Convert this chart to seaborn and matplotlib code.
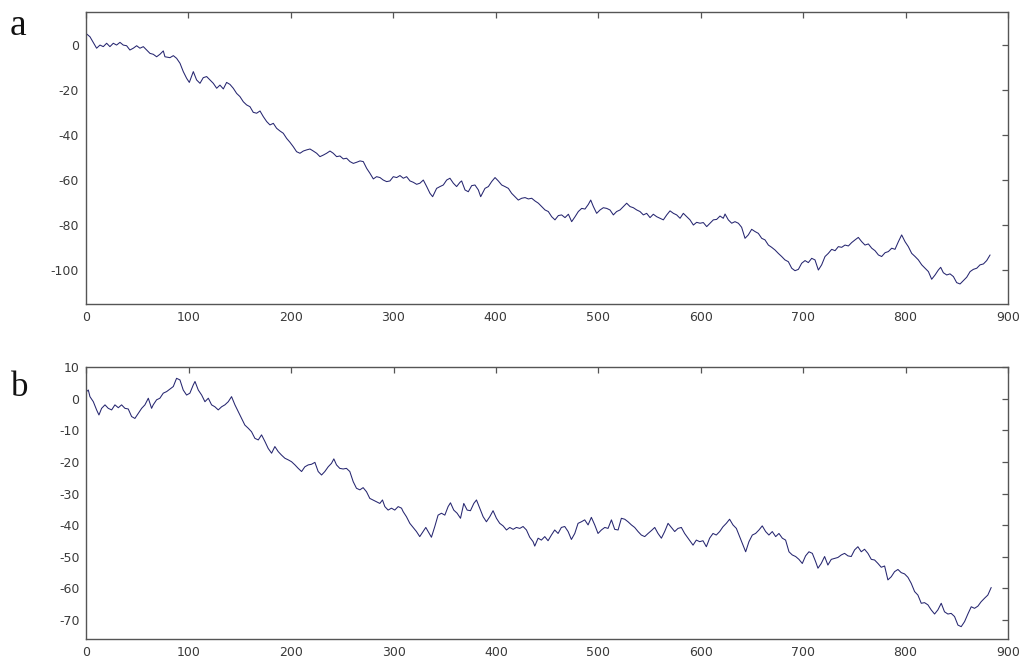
import matplotlib
matplotlib.use("Agg")
import matplotlib.pyplot as plt
import seaborn as sns

### Values (x = sample index)
# panel a, samples 0-300
a_x_1 = [0, 3.9, 10.4, 13.7, 16.9, 20.2, 23.4, 26.7, 29.9, 33.2,
         36.4, 39.7, 42.9, 46.2, 49.5, 52.7, 56.0, 59.2, 62.5, 65.7,
         69.0, 72.2, 75.5, 77.1, 82.0, 85.3, 88.5, 91.8, 95.0, 98.3,
         100.9, 104.8, 108.0, 111.3, 114.5, 117.8, 121.0, 124.3, 127.6, 130.8,
         134.1, 137.3, 140.6, 143.8, 147.1, 150.3, 153.6, 156.8, 160.1, 163.3,
         166.6, 169.9, 173.1, 176.4, 179.6, 182.9, 186.1, 189.4, 192.6, 195.9,
         199.1, 202.4, 205.6, 208.9, 212.2, 215.4, 218.7, 221.9, 225.2, 228.4,
         231.7, 234.9, 238.2, 241.4, 244.7, 247.9, 251.2, 254.4, 257.7, 261.0,
         264.2, 267.5, 270.7, 274.0, 277.2, 280.5, 283.7, 287.0, 290.2, 293.5,
         296.7]
a_y_1 = [5.0, 3.5, -1.6, -0.2, -0.9, 0.6, -0.9, 0.6, -0.2, 1.0,
         -0.2, -0.5, -2.4, -1.6, -0.5, -1.6, -0.9, -2.4, -3.9, -4.3,
         -5.4, -4.3, -2.8, -5.4, -5.8, -4.9, -6.1, -8.3, -12.0, -15.0,
         -16.8, -12.0, -15.7, -17.2, -14.7, -14.2, -15.7, -17.2, -19.4, -18.0,
         -19.7, -16.8, -17.7, -19.4, -21.7, -23.1, -25.4, -26.8, -27.6, -30.1,
         -30.5, -29.5, -32.0, -34.2, -35.7, -35.0, -37.2, -38.4, -39.4, -41.7,
         -43.4, -45.4, -47.6, -48.3, -47.3, -46.8, -46.4, -47.3, -48.3, -49.8,
         -49.1, -48.3, -47.3, -48.3, -49.8, -49.5, -50.8, -50.5, -52.0, -52.8,
         -52.3, -51.7, -52.0, -55.0, -57.2, -59.7, -58.7, -59.1, -60.2, -60.9,
         -60.6]

# panel a, samples 300-600
a_x_2 = [300.0, 303.3, 306.5, 309.8, 313.0, 316.3, 319.5, 322.8, 326.0, 329.3,
         332.6, 335.8, 338.4, 342.3, 345.6, 348.8, 352.1, 355.3, 358.6, 361.8,
         365.1, 366.7, 370.0, 373.2, 376.5, 379.7, 383.0, 385.3, 389.5, 392.8,
         396.0, 399.3, 402.5, 405.8, 409.0, 412.3, 415.5, 418.8, 422.0, 425.3,
         428.6, 431.8, 435.1, 438.3, 441.6, 444.8, 448.1, 451.3, 454.6, 457.8,
         461.1, 464.3, 467.6, 470.9, 474.1, 477.4, 480.6, 483.9, 487.1, 490.4,
         492.7, 495.3, 498.5, 501.8, 505.0, 508.3, 511.5, 514.8, 518.0, 521.3,
         524.6, 527.8, 531.1, 534.3, 537.6, 540.8, 544.1, 547.3, 550.6, 553.8,
         557.1, 560.3, 563.6, 566.9, 570.1, 573.4, 576.6, 579.9, 583.1, 586.4,
         589.6, 592.9, 596.1, 599.4]
a_y_2 = [-58.7, -59.1, -58.2, -59.4, -58.7, -60.6, -61.2, -62.1, -61.6, -60.2,
         -63.1, -66.1, -67.6, -63.9, -63.1, -62.4, -60.2, -59.4, -61.6, -63.1,
         -61.2, -60.6, -64.6, -65.4, -62.7, -62.4, -64.6, -67.6, -63.9, -63.1,
         -60.9, -59.1, -60.6, -62.4, -63.1, -63.9, -66.1, -67.6, -69.1, -68.3,
         -68.0, -68.6, -68.3, -69.5, -70.5, -72.0, -73.5, -74.2, -76.5, -77.9,
         -76.0, -75.7, -76.9, -75.4, -78.7, -76.5, -74.2, -72.8, -73.1, -71.0,
         -69.1, -72.0, -75.0, -73.5, -72.5, -72.8, -73.5, -75.7, -74.2, -73.5,
         -72.0, -70.5, -72.0, -72.5, -73.5, -74.2, -75.7, -75.0, -76.9, -75.4,
         -76.5, -77.2, -77.9, -75.7, -73.9, -75.0, -75.7, -77.2, -75.0, -76.5,
         -77.9, -80.2, -79.0, -79.4]

# panel a, samples 600-885
a_x_3 = [602.6, 605.9, 609.1, 612.4, 615.6, 618.9, 622.1, 623.8, 627.0, 630.3,
         633.5, 636.8, 640.0, 643.3, 646.5, 649.8, 653.1, 656.3, 659.6, 662.8,
         666.1, 669.3, 672.6, 675.8, 679.1, 682.3, 685.6, 688.9, 692.1, 695.4,
         698.6, 701.9, 705.1, 708.4, 711.6, 714.9, 718.1, 721.4, 724.6, 727.9,
         731.2, 734.4, 737.7, 740.9, 744.2, 747.4, 750.7, 753.9, 757.2, 760.4,
         763.7, 767.0, 770.2, 773.5, 776.7, 780.0, 783.2, 786.5, 789.7, 793.0,
         796.2, 799.5, 802.7, 806.0, 809.3, 812.5, 815.8, 819.0, 822.3, 825.5,
         828.8, 832.0, 834.3, 836.9, 840.2, 843.4, 846.7, 849.9, 853.2, 856.4,
         859.7, 863.0, 866.2, 869.5, 872.7, 876.0, 879.2, 882.5]
a_y_3 = [-79.1, -80.9, -79.4, -77.9, -77.7, -76.2, -77.2, -75.3, -77.9, -79.4,
         -78.7, -79.4, -81.2, -86.1, -84.6, -82.1, -83.1, -83.9, -86.1, -86.8,
         -89.1, -90.1, -91.3, -92.8, -94.2, -95.7, -96.5, -99.4, -100.5, -99.9,
         -97.2, -96.0, -96.9, -95.0, -95.7, -100.2, -97.9, -94.2, -92.8, -91.0,
         -91.6, -89.8, -90.1, -89.1, -89.5, -88.0, -86.8, -85.7, -87.6, -89.1,
         -88.6, -90.5, -91.6, -93.5, -94.2, -92.5, -92.0, -90.5, -91.0, -87.6,
         -84.6, -87.6, -89.8, -92.8, -94.2, -95.7, -97.9, -99.4, -100.9, -104.3,
         -102.4, -100.2, -99.0, -101.4, -102.4, -101.9, -103.1, -105.8, -106.4, -104.9,
         -103.4, -100.9, -99.9, -99.4, -97.9, -97.5, -96.0, -93.5]

# panel b, samples 0-280
b_x_1 = [0, 1.8, 3.4, 6.7, 9.9, 12.2, 14.8, 18.1, 21.3, 24.6,
         27.8, 31.1, 34.3, 37.6, 40.8, 44.1, 47.3, 50.6, 53.9, 57.1,
         60.4, 63.6, 65.2, 68.5, 71.7, 75.0, 78.3, 81.5, 84.8, 88.0,
         91.3, 94.5, 97.8, 101.0, 104.3, 106.0, 109.2, 112.5, 115.7, 119.0,
         122.2, 125.4, 128.7, 132.0, 135.2, 138.5, 141.7, 145.0, 148.2, 151.5,
         154.7, 158.0, 161.2, 164.5, 167.8, 171.0, 174.3, 177.5, 180.8, 184.0,
         187.3, 190.5, 193.8, 197.0, 200.3, 203.6, 206.8, 210.1, 213.3, 216.6,
         219.8, 223.1, 226.3, 229.6, 232.8, 236.1, 239.3, 241.6, 244.2, 247.4,
         250.7, 253.9, 257.2, 260.5, 263.7, 267.0, 270.2, 273.5, 276.7]
b_y_1 = [2.3, 2.8, 0.7, -0.9, -3.5, -5.1, -3.0, -1.9, -3.0, -3.5,
         -1.9, -2.8, -1.9, -3.0, -3.2, -5.6, -6.2, -4.6, -3.0, -1.9,
         0.2, -3.0, -1.9, -0.3, 0.2, 1.8, 2.3, 3.1, 3.9, 6.5,
         6.0, 2.8, 1.2, 1.8, 4.4, 5.5, 2.8, 1.2, -0.9, 0.2,
         -1.9, -2.5, -3.5, -2.5, -1.9, -0.9, 0.7, -1.9, -4.0, -6.2,
         -8.3, -9.3, -10.4, -12.5, -13.0, -11.4, -13.5, -15.7, -17.2, -15.1,
         -16.7, -17.8, -18.8, -19.3, -19.9, -20.9, -22.0, -23.0, -21.5, -20.9,
         -20.7, -20.1, -23.0, -24.1, -23.0, -21.5, -20.4, -19.0, -20.9, -22.0,
         -22.2, -22.0, -23.0, -26.2, -28.3, -28.8, -28.1, -29.4, -31.5]

# panel b, samples 285-590
b_x_2 = [286.5, 289.1, 291.4, 294.6, 297.9, 301.1, 304.4, 307.7, 309.3, 312.5,
         315.8, 319.0, 322.3, 325.5, 328.8, 331.4, 334.7, 336.9, 340.2, 343.4,
         346.7, 350.0, 353.2, 355.5, 358.7, 362.0, 365.3, 368.5, 371.8, 375.0,
         378.3, 380.9, 384.1, 387.4, 390.6, 393.9, 397.1, 400.4, 403.6, 406.9,
         410.2, 413.4, 416.7, 419.9, 423.2, 426.4, 429.7, 432.9, 436.2, 437.8,
         441.1, 444.3, 447.6, 450.8, 454.1, 457.3, 460.6, 463.8, 467.1, 470.4,
         473.6, 476.9, 480.1, 483.4, 486.6, 489.9, 493.1, 496.4, 499.6, 502.9,
         506.2, 509.4, 512.7, 515.9, 519.2, 522.4, 525.7, 528.9, 532.2, 535.4,
         538.7, 541.9, 545.2, 548.5, 551.7, 555.0, 558.2, 561.5, 564.7, 568.0,
         571.2, 574.5, 577.7, 581.0, 584.2, 587.5]
b_y_2 = [-33.1, -32.0, -34.1, -35.2, -34.6, -35.2, -34.1, -34.6, -35.7, -37.3,
         -39.4, -40.7, -42.0, -43.6, -42.0, -40.7, -42.6, -43.8, -40.4, -36.8,
         -36.2, -36.8, -34.1, -32.9, -35.2, -36.2, -37.8, -33.1, -35.2, -35.4,
         -33.1, -32.0, -34.6, -37.3, -38.9, -37.3, -35.4, -37.8, -39.4, -40.2,
         -41.5, -40.7, -41.3, -40.7, -41.0, -40.4, -41.5, -43.8, -45.2, -46.6,
         -44.1, -44.7, -43.6, -44.9, -43.1, -41.5, -42.6, -40.7, -40.4, -42.0,
         -44.5, -42.6, -39.4, -38.9, -38.3, -39.9, -37.5, -39.9, -42.6, -41.5,
         -40.7, -41.0, -38.3, -41.3, -41.5, -37.8, -38.1, -38.9, -39.9, -40.7,
         -42.0, -43.1, -43.6, -42.6, -41.7, -40.7, -42.6, -44.1, -42.0, -39.4,
         -40.7, -42.0, -41.0, -40.7, -42.6, -44.1]

# panel b, samples 590-885
b_x_3 = [592.4, 595.6, 598.9, 602.1, 605.4, 608.6, 611.9, 615.1, 618.4, 621.6,
         624.9, 628.1, 631.4, 634.7, 637.9, 641.2, 643.8, 647.0, 650.3, 653.5,
         656.8, 660.0, 663.3, 666.5, 669.8, 673.1, 676.3, 679.6, 682.8, 686.1,
         689.3, 692.6, 695.8, 699.1, 702.3, 705.6, 708.9, 712.1, 714.4, 717.6,
         720.9, 724.1, 727.4, 730.7, 733.9, 737.2, 740.4, 743.7, 746.9, 750.2,
         753.4, 756.7, 759.9, 763.2, 766.5, 769.7, 773.0, 776.2, 779.5, 782.7,
         786.0, 789.2, 792.5, 795.7, 799.0, 802.3, 805.5, 808.8, 812.0, 815.3,
         818.5, 821.8, 825.0, 828.3, 831.5, 834.8, 838.0, 841.3, 844.5, 847.8,
         851.1, 854.3, 857.6, 860.8, 864.1, 867.3, 870.6, 873.8, 877.1, 880.3,
         883.6]
b_y_3 = [-46.3, -44.7, -45.2, -44.9, -46.8, -44.1, -42.6, -43.1, -42.0, -40.5,
         -39.4, -38.1, -39.9, -41.0, -43.6, -46.3, -48.4, -45.2, -43.1, -42.6,
         -41.5, -40.2, -42.0, -43.1, -42.0, -43.6, -42.6, -44.1, -44.7, -48.4,
         -49.4, -49.9, -50.8, -52.1, -49.7, -48.4, -48.9, -51.5, -53.6, -52.1,
         -49.9, -52.6, -50.8, -50.5, -50.2, -49.4, -48.9, -49.7, -49.9, -47.8,
         -46.8, -48.4, -47.6, -48.9, -50.8, -51.0, -52.1, -53.3, -52.9, -57.3,
         -56.3, -54.7, -54.0, -55.0, -55.4, -56.5, -58.4, -61.0, -62.1, -64.7,
         -64.5, -65.2, -66.8, -68.1, -66.8, -64.7, -67.4, -68.1, -67.9, -68.9,
         -71.6, -72.1, -70.5, -68.1, -65.8, -66.3, -65.6, -64.2, -63.1, -62.1,
         -59.7]

x_ticks = list(range(0, 1000, 100))
a_yticks = [-100, -80, -60, -40, -20, 0]
b_yticks = [-70, -60, -50, -40, -30, -20, -10, 0, 10]

a_x = a_x_1 + a_x_2 + a_x_3
a_y = a_y_1 + a_y_2 + a_y_3
b_x = b_x_1 + b_x_2 + b_x_3
b_y = b_y_1 + b_y_2 + b_y_3
assert len(a_x) == len(a_y) and len(b_x) == len(b_y)

### Plot
sns.set_style("white")
plt.rcParams["font.family"] = ["DejaVu Sans"]
plt.rcParams["axes.unicode_minus"] = False

line_col = "#262670"
spine_col = "#555555"
label_col = "#3a3a3a"

fig = plt.figure(figsize=(10.22, 6.59), dpi=100)
ax_a = fig.add_axes([0.0841, 0.5387, 0.9022, 0.4431])
ax_b = fig.add_axes([0.0846, 0.0299, 0.9017, 0.4128])

panels = [
    (ax_a, a_x, a_y, (-115.3, 14.5), a_yticks),
    (ax_b, b_x, b_y, (-76.1, 10.0), b_yticks),
]
for ax, xs, ys, ylim, yticks in panels:
    sns.lineplot(x=xs, y=ys, ax=ax, color=line_col, linewidth=0.75,
                 estimator=None, sort=False)
    ax.set_xlim(0, 900)
    ax.set_ylim(*ylim)
    ax.set_xticks(x_ticks)
    ax.set_yticks(yticks)
    ax.tick_params(direction="in", length=4, width=0.9, color=spine_col,
                   top=True, right=True, labelsize=9, labelcolor=label_col, pad=5)
    for sp in ax.spines.values():
        sp.set_visible(True)
        sp.set_color(spine_col)
        sp.set_linewidth(1.0)
    ax.set_xlabel("")
    ax.set_ylabel("")

fig.text(0.018, 1 - 35 / 659, "a", family=["Liberation Serif"], fontsize=27,
         ha="center", va="baseline", color="#111111")
fig.text(0.019, 1 - 396 / 659, "b", family=["Liberation Serif"], fontsize=25,
         ha="center", va="baseline", color="#111111")

fig.savefig("out.png", dpi=100)
